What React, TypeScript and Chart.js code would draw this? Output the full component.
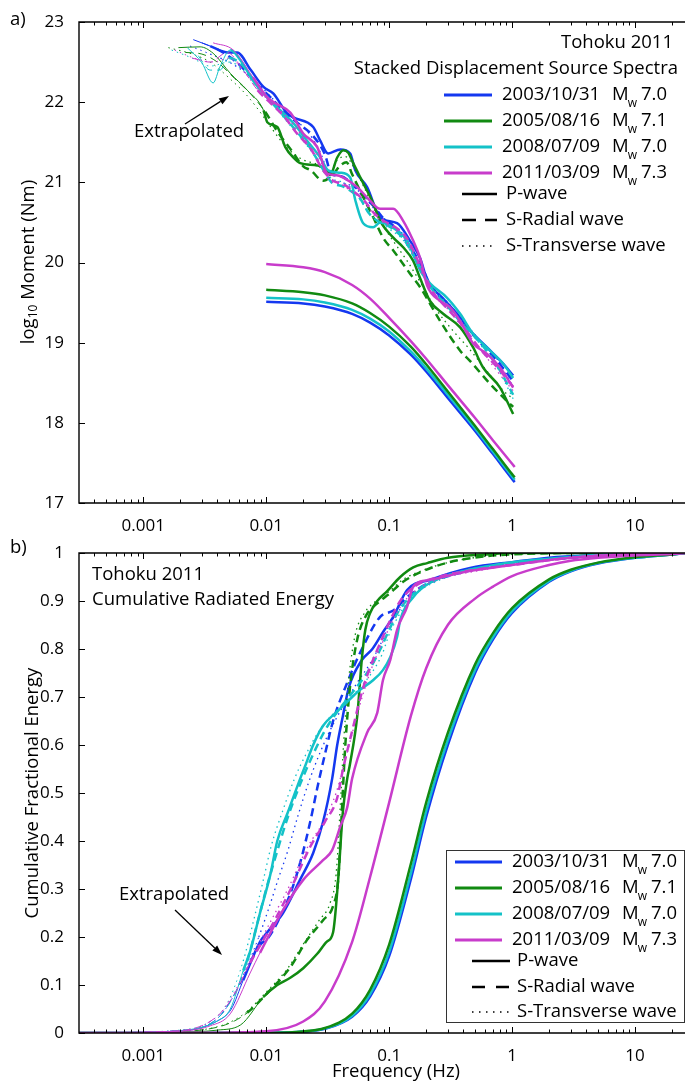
import React, { useEffect, useRef } from 'react';
import { Chart, registerables } from 'chart.js';
Chart.register(...registerables);

type Pt = [number, number];

const FONT = '"Open Sans", sans-serif';
const C_BLUE = '#1438f0';
const C_GREEN = '#118a11';
const C_CYAN = '#14c2c8';
const C_MAGENTA = '#c83ccb';

const X_MIN = 0.0003018;
const X_MAX = 25.5;
const X_TICKS = [0.001, 0.01, 0.1, 1, 10];
const TOP_Y_TICKS = [17, 18, 19, 20, 21, 22, 23];
const BOT_Y_TICKS = [0, 0.1, 0.2, 0.3, 0.4, 0.5, 0.6, 0.7, 0.8, 0.9, 1];

const EVENTS = ['2003/10/31', '2005/08/16', '2008/07/09', '2011/03/09'];
const MAGS = ['7.0', '7.1', '7.0', '7.3'];
const WAVES = ['P-wave', 'S-Radial wave', 'S-Transverse wave'];

// ---------- (a) model spectra ----------
const topModelFreq = [0.01, 0.02, 0.03, 0.05, 0.07, 0.1, 0.15, 0.2, 0.3, 0.5, 0.7, 1.0, 1.05];
const topModelBlue = [19.51, 19.49, 19.45, 19.36, 19.25, 19.09, 18.85, 18.64, 18.31, 17.9, 17.61, 17.3, 17.26];
const topModelCyan = [19.56, 19.54, 19.5, 19.41, 19.3, 19.14, 18.89, 18.68, 18.35, 17.93, 17.64, 17.33, 17.29];
const topModelGreen = [19.66, 19.63, 19.59, 19.49, 19.37, 19.2, 18.95, 18.73, 18.39, 17.96, 17.67, 17.36, 17.32];
const topModelMagenta = [19.98, 19.94, 19.88, 19.72, 19.55, 19.31, 19.02, 18.8, 18.47, 18.06, 17.78, 17.49, 17.45];

// ---------- (a) stacked spectra ----------
const topBlueP: Pt[] = [[0.00255, 22.78], [0.0035, 22.7], [0.0049, 22.62], [0.0058, 22.62], [0.0075, 22.4], [0.0095, 22.19], [0.0114, 22.11], [0.0148, 21.86], [0.0166, 21.81], [0.0241, 21.69], [0.0275, 21.52], [0.0319, 21.36], [0.04, 21.41], [0.0482, 21.36], [0.053, 21.15], [0.0662, 20.94], [0.0845, 20.56], [0.116, 20.49], [0.148, 20.27], [0.179, 20.05], [0.204, 19.78], [0.275, 19.55], [0.357, 19.36], [0.456, 19.15], [0.626, 18.94], [0.845, 18.74], [1.02, 18.59]];
const topBlueR: Pt[] = [[0.003, 22.74], [0.004, 22.66], [0.0052, 22.55], [0.0065, 22.42], [0.0085, 22.22], [0.011, 22.05], [0.014, 21.88], [0.018, 21.74], [0.024, 21.58], [0.03, 21.35], [0.034, 21.1], [0.04, 21.08], [0.05, 20.98], [0.06, 20.85], [0.075, 20.7], [0.09, 20.55], [0.11, 20.45], [0.14, 20.25], [0.18, 19.98], [0.22, 19.7], [0.3, 19.48], [0.4, 19.25], [0.55, 19.0], [0.75, 18.78], [1.02, 18.52]];
const topBlueT: Pt[] = [[0.0024, 22.7], [0.0035, 22.6], [0.005, 22.5], [0.007, 22.35], [0.009, 22.2], [0.012, 22.0], [0.016, 21.82], [0.022, 21.62], [0.028, 21.35], [0.033, 21.05], [0.04, 21.0], [0.05, 20.95], [0.065, 20.8], [0.08, 20.62], [0.1, 20.5], [0.13, 20.35], [0.17, 20.05], [0.22, 19.72], [0.3, 19.5], [0.4, 19.28], [0.55, 19.02], [0.75, 18.8], [1.02, 18.45]];

const topGreenP: Pt[] = [[0.00193, 22.68], [0.0029, 22.69], [0.0037, 22.61], [0.0051, 22.36], [0.007, 22.15], [0.0095, 21.9], [0.0102, 21.75], [0.0123, 21.69], [0.0143, 21.44], [0.0166, 21.31], [0.0189, 21.24], [0.026, 21.21], [0.0302, 21.17], [0.0331, 21.09], [0.0378, 21.31], [0.0423, 21.4], [0.0465, 21.37], [0.051, 21.24], [0.0615, 20.99], [0.0741, 20.74], [0.0845, 20.52], [0.108, 20.31], [0.13, 20.19], [0.157, 20.02], [0.179, 19.8], [0.215, 19.52], [0.275, 19.36], [0.378, 19.19], [0.482, 18.94], [0.581, 18.69], [0.798, 18.44], [1.02, 18.11]];
const topGreenR: Pt[] = [[0.0022, 22.62], [0.003, 22.6], [0.004, 22.5], [0.0055, 22.3], [0.0075, 22.1], [0.0098, 21.88], [0.0125, 21.62], [0.016, 21.4], [0.02, 21.2], [0.023, 21.15], [0.029, 21.02], [0.035, 21.1], [0.04, 21.21], [0.045, 21.25], [0.05, 21.1], [0.06, 20.85], [0.075, 20.55], [0.09, 20.3], [0.108, 20.15], [0.148, 19.86], [0.179, 19.69], [0.26, 19.27], [0.378, 18.9], [0.456, 18.77], [0.65, 18.5], [0.91, 18.27], [1.02, 18.2]];
const topGreenT: Pt[] = [[0.0016, 22.68], [0.0025, 22.6], [0.0035, 22.5], [0.005, 22.3], [0.007, 22.08], [0.0095, 21.82], [0.012, 21.6], [0.015, 21.42], [0.02, 21.28], [0.026, 21.22], [0.032, 21.1], [0.038, 21.28], [0.044, 21.32], [0.052, 21.18], [0.062, 20.95], [0.075, 20.68], [0.09, 20.45], [0.11, 20.25], [0.14, 20.02], [0.18, 19.75], [0.24, 19.42], [0.33, 19.15], [0.45, 18.92], [0.62, 18.65], [0.85, 18.4], [1.02, 18.3]];

const topCyanP: Pt[] = [[0.00228, 22.68], [0.003, 22.49], [0.0037, 22.24], [0.0042, 22.44], [0.0051, 22.65], [0.0062, 22.52], [0.0078, 22.27], [0.0102, 22.06], [0.013, 21.9], [0.0166, 21.74], [0.0215, 21.52], [0.0275, 21.31], [0.0319, 21.15], [0.04, 21.12], [0.0482, 21.06], [0.053, 20.78], [0.0615, 20.49], [0.0741, 20.44], [0.0845, 20.5], [0.116, 20.4], [0.14, 20.27], [0.179, 19.9], [0.215, 19.74], [0.296, 19.56], [0.378, 19.36], [0.482, 19.11], [0.662, 18.9], [0.845, 18.74], [1.02, 18.56]];
const topCyanR: Pt[] = [[0.0028, 22.58], [0.0035, 22.4], [0.0042, 22.4], [0.005, 22.55], [0.0065, 22.45], [0.0085, 22.2], [0.011, 22.0], [0.014, 21.82], [0.018, 21.62], [0.023, 21.42], [0.028, 21.2], [0.034, 21.0], [0.042, 20.95], [0.05, 20.88], [0.058, 20.8], [0.068, 20.62], [0.08, 20.52], [0.1, 20.45], [0.13, 20.3], [0.17, 20.0], [0.22, 19.68], [0.3, 19.45], [0.4, 19.22], [0.55, 19.0], [0.75, 18.72], [1.02, 18.35]];
const topCyanT: Pt[] = [[0.0017, 22.65], [0.0025, 22.55], [0.0035, 22.45], [0.005, 22.5], [0.0065, 22.4], [0.0085, 22.18], [0.011, 22.0], [0.014, 21.8], [0.018, 21.6], [0.023, 21.4], [0.028, 21.2], [0.034, 21.05], [0.042, 21.0], [0.05, 20.92], [0.06, 20.75], [0.07, 20.6], [0.085, 20.5], [0.1, 20.42], [0.13, 20.28], [0.17, 19.98], [0.22, 19.7], [0.3, 19.47], [0.4, 19.24], [0.55, 18.98], [0.75, 18.7], [1.02, 18.3]];

const topMagentaP: Pt[] = [[0.0037, 22.74], [0.0054, 22.65], [0.0078, 22.31], [0.0102, 22.06], [0.0118, 21.99], [0.0157, 21.87], [0.02, 21.61], [0.026, 21.44], [0.0313, 21.11], [0.0364, 21.09], [0.0423, 21.06], [0.055, 20.94], [0.07, 20.77], [0.0845, 20.67], [0.108, 20.67], [0.13, 20.52], [0.157, 20.27], [0.179, 20.05], [0.204, 19.71], [0.26, 19.52], [0.313, 19.44], [0.378, 19.27], [0.482, 18.99], [0.626, 18.86], [0.798, 18.69], [1.02, 18.44]];
const topMagentaR: Pt[] = [[0.0025, 22.55], [0.0035, 22.5], [0.0048, 22.62], [0.0065, 22.4], [0.0085, 22.15], [0.011, 21.98], [0.014, 21.82], [0.018, 21.6], [0.023, 21.42], [0.029, 21.15], [0.035, 21.02], [0.042, 20.98], [0.05, 20.9], [0.062, 20.78], [0.075, 20.62], [0.09, 20.52], [0.11, 20.45], [0.14, 20.3], [0.18, 19.95], [0.23, 19.62], [0.3, 19.42], [0.4, 19.2], [0.55, 18.92], [0.75, 18.7], [1.02, 18.45]];
const topMagentaT: Pt[] = [[0.0018, 22.65], [0.0026, 22.55], [0.0037, 22.5], [0.005, 22.55], [0.0068, 22.35], [0.009, 22.12], [0.012, 21.95], [0.016, 21.75], [0.021, 21.52], [0.027, 21.3], [0.033, 21.02], [0.04, 20.98], [0.05, 20.88], [0.06, 20.8], [0.075, 20.6], [0.09, 20.5], [0.11, 20.42], [0.14, 20.25], [0.18, 19.9], [0.23, 19.6], [0.3, 19.42], [0.4, 19.18], [0.55, 18.92], [0.75, 18.65], [1.02, 18.4]];

// ---------- (b) model cumulative energy ----------
const botModelFreq = [0.0003, 0.003, 0.01, 0.02, 0.03, 0.05, 0.07, 0.1, 0.15, 0.2, 0.3, 0.5, 0.7, 1, 2, 3, 5, 10, 20, 26];
const botModelBlue = [0, 0, 0.0003, 0.0027, 0.0086, 0.034, 0.076, 0.16, 0.32, 0.45, 0.6, 0.75, 0.82, 0.875, 0.94, 0.962, 0.978, 0.99, 0.997, 1];
const botModelCyan = [0, 0, 0.0003, 0.003, 0.0093, 0.036, 0.081, 0.169, 0.332, 0.462, 0.61, 0.757, 0.825, 0.879, 0.942, 0.963, 0.979, 0.99, 0.997, 1];
const botModelGreen = [0, 0, 0.0004, 0.0033, 0.0104, 0.0405, 0.09, 0.184, 0.352, 0.48, 0.625, 0.768, 0.833, 0.885, 0.945, 0.965, 0.98, 0.991, 0.997, 1];
const botModelMagenta = [0, 0.0004, 0.0036, 0.024, 0.066, 0.19, 0.325, 0.48, 0.66, 0.76, 0.85, 0.905, 0.93, 0.952, 0.975, 0.984, 0.99, 0.995, 0.998, 1];

// ---------- (b) cumulative radiated energy ----------
const botBlueP: Pt[] = [[0.0003, 0], [0.002, 0.004], [0.004, 0.025], [0.0052, 0.05], [0.0065, 0.11], [0.0089, 0.19], [0.0102, 0.21], [0.0137, 0.25], [0.0189, 0.32], [0.0241, 0.375], [0.029, 0.44], [0.0344, 0.53], [0.0378, 0.6], [0.042, 0.66], [0.047, 0.72], [0.06, 0.777], [0.073, 0.8], [0.089, 0.835], [0.108, 0.867], [0.14, 0.923], [0.215, 0.944], [0.456, 0.969], [1, 0.981], [2.5, 0.992], [6, 0.997], [20, 1], [26, 1]];
const botBlueR: Pt[] = [[0.0003, 0], [0.002, 0.005], [0.004, 0.03], [0.0055, 0.08], [0.007, 0.13], [0.0087, 0.18], [0.0105, 0.2], [0.0123, 0.23], [0.0157, 0.29], [0.0189, 0.355], [0.0228, 0.44], [0.026, 0.51], [0.03, 0.58], [0.035, 0.65], [0.0456, 0.73], [0.06, 0.8], [0.0845, 0.867], [0.108, 0.88], [0.14, 0.908], [0.2, 0.935], [0.4, 0.96], [1, 0.978], [3, 0.99], [10, 0.998], [26, 1]];
const botBlueT: Pt[] = [[0.0003, 0], [0.002, 0.005], [0.004, 0.03], [0.0055, 0.08], [0.007, 0.14], [0.0087, 0.2], [0.0105, 0.26], [0.0125, 0.32], [0.015, 0.38], [0.018, 0.45], [0.022, 0.52], [0.027, 0.58], [0.033, 0.63], [0.042, 0.68], [0.055, 0.73], [0.07, 0.77], [0.085, 0.81], [0.1, 0.85], [0.13, 0.89], [0.17, 0.92], [0.25, 0.945], [0.5, 0.965], [1, 0.978], [3, 0.99], [10, 0.998], [26, 1]];

const botGreenP: Pt[] = [[0.0003, 0], [0.002, 0.002], [0.004, 0.006], [0.0062, 0.017], [0.0095, 0.075], [0.0123, 0.1], [0.0157, 0.115], [0.02, 0.135], [0.026, 0.165], [0.031, 0.19], [0.035, 0.21], [0.0385, 0.32], [0.042, 0.46], [0.0456, 0.53], [0.048, 0.56], [0.055, 0.66], [0.06, 0.78], [0.064, 0.84], [0.07, 0.875], [0.08, 0.9], [0.096, 0.92], [0.123, 0.95], [0.157, 0.97], [0.204, 0.979], [0.3, 0.99], [0.6, 0.997], [1, 1], [26, 1]];
const botGreenR: Pt[] = [[0.0003, 0], [0.002, 0.003], [0.004, 0.012], [0.0055, 0.025], [0.007, 0.042], [0.0102, 0.083], [0.0157, 0.137], [0.0215, 0.194], [0.029, 0.235], [0.035, 0.265], [0.0385, 0.32], [0.041, 0.45], [0.044, 0.6], [0.048, 0.72], [0.055, 0.82], [0.065, 0.87], [0.08, 0.895], [0.1, 0.915], [0.13, 0.94], [0.18, 0.96], [0.3, 0.98], [0.6, 0.993], [1, 0.997], [3, 1], [26, 1]];
const botGreenT: Pt[] = [[0.0003, 0], [0.002, 0.003], [0.004, 0.013], [0.0055, 0.027], [0.007, 0.045], [0.01, 0.085], [0.015, 0.135], [0.02, 0.185], [0.027, 0.235], [0.033, 0.27], [0.037, 0.33], [0.04, 0.47], [0.043, 0.62], [0.047, 0.74], [0.053, 0.83], [0.063, 0.875], [0.078, 0.9], [0.1, 0.92], [0.13, 0.945], [0.18, 0.962], [0.3, 0.98], [0.6, 0.993], [1, 0.997], [3, 1], [26, 1]];

const botCyanP: Pt[] = [[0.0003, 0], [0.001, 0.001], [0.002, 0.005], [0.003, 0.012], [0.004, 0.025], [0.0051, 0.05], [0.0065, 0.13], [0.0074, 0.17], [0.0089, 0.25], [0.0108, 0.33], [0.0123, 0.4], [0.015, 0.46], [0.0189, 0.53], [0.021, 0.56], [0.0241, 0.6], [0.029, 0.64], [0.0378, 0.67], [0.0456, 0.69], [0.058, 0.715], [0.074, 0.735], [0.089, 0.756], [0.102, 0.783], [0.116, 0.825], [0.123, 0.86], [0.157, 0.908], [0.215, 0.938], [0.456, 0.965], [1, 0.981], [2.5, 0.99], [5, 0.996], [15, 1], [26, 1]];
const botCyanR: Pt[] = [[0.0003, 0], [0.002, 0.005], [0.004, 0.03], [0.0055, 0.08], [0.007, 0.15], [0.0085, 0.23], [0.01, 0.3], [0.012, 0.37], [0.015, 0.45], [0.019, 0.52], [0.024, 0.58], [0.03, 0.63], [0.038, 0.67], [0.047, 0.7], [0.058, 0.73], [0.07, 0.76], [0.085, 0.8], [0.1, 0.84], [0.12, 0.88], [0.15, 0.91], [0.2, 0.935], [0.4, 0.962], [1, 0.978], [3, 0.99], [10, 0.998], [26, 1]];
const botCyanT: Pt[] = [[0.0003, 0], [0.002, 0.006], [0.004, 0.035], [0.005, 0.07], [0.0065, 0.15], [0.008, 0.24], [0.0095, 0.32], [0.011, 0.39], [0.0135, 0.46], [0.017, 0.53], [0.021, 0.58], [0.027, 0.63], [0.035, 0.665], [0.045, 0.69], [0.058, 0.72], [0.072, 0.75], [0.088, 0.79], [0.1, 0.83], [0.12, 0.87], [0.15, 0.905], [0.2, 0.93], [0.4, 0.96], [1, 0.978], [3, 0.99], [10, 0.998], [26, 1]];

const botMagentaP: Pt[] = [[0.0003, 0], [0.002, 0.004], [0.0035, 0.015], [0.0051, 0.04], [0.0074, 0.125], [0.0089, 0.167], [0.0137, 0.256], [0.02, 0.319], [0.029, 0.36], [0.0344, 0.381], [0.04, 0.43], [0.0456, 0.47], [0.05, 0.53], [0.066, 0.625], [0.08, 0.667], [0.089, 0.735], [0.102, 0.777], [0.116, 0.84], [0.14, 0.888], [0.157, 0.93], [0.215, 0.944], [0.4, 0.96], [1, 0.975], [3, 0.99], [10, 0.998], [26, 1]];
const botMagentaR: Pt[] = [[0.0003, 0], [0.002, 0.005], [0.004, 0.035], [0.0055, 0.08], [0.0074, 0.146], [0.0114, 0.229], [0.0157, 0.298], [0.0228, 0.388], [0.03, 0.44], [0.0378, 0.49], [0.042, 0.548], [0.051, 0.638], [0.06, 0.71], [0.07, 0.762], [0.0845, 0.812], [0.102, 0.86], [0.123, 0.9], [0.16, 0.93], [0.25, 0.95], [0.5, 0.965], [1, 0.975], [3, 0.99], [10, 0.998], [26, 1]];
const botMagentaT: Pt[] = [[0.0003, 0], [0.002, 0.005], [0.004, 0.035], [0.0055, 0.085], [0.0074, 0.15], [0.011, 0.235], [0.015, 0.3], [0.022, 0.39], [0.03, 0.445], [0.037, 0.5], [0.043, 0.56], [0.052, 0.64], [0.062, 0.71], [0.072, 0.76], [0.087, 0.81], [0.105, 0.855], [0.125, 0.89], [0.16, 0.92], [0.25, 0.945], [0.5, 0.962], [1, 0.975], [3, 0.99], [10, 0.998], [26, 1]];

// ---------- helpers ----------
type Style = 'P' | 'R' | 'T' | 'M';

function lineDs(pts: Pt[], color: string, style: Style, cut: number) {
  const full = style === 'T' ? 1.3 : 2.5;
  return {
    data: pts.map(([x, y]) => ({ x, y })),
    borderColor: color,
    backgroundColor: color,
    borderWidth: full,
    borderDash: style === 'R' ? [8, 5] : style === 'T' ? [1.5, 4] : [],
    borderCapStyle: 'butt',
    pointRadius: 0,
    fill: false,
    cubicInterpolationMode: 'monotone',
    segment: {
      borderWidth: (c: any) => (c.p1.parsed.x <= cut ? 1 : full),
    },
  };
}

function modelDs(freq: number[], vals: number[], color: string) {
  return lineDs(freq.map((f, i) => [f, vals[i]] as Pt), color, 'M', 0);
}

function text(ctx: CanvasRenderingContext2D, s: string, x: number, y: number, align: CanvasTextAlign = 'left', size = 18.5) {
  ctx.font = `${size}px ${FONT}`;
  ctx.textAlign = align;
  ctx.textBaseline = 'middle';
  ctx.fillStyle = '#000';
  ctx.fillText(s, x, y);
}

function arrow(ctx: CanvasRenderingContext2D, x1: number, y1: number, x2: number, y2: number) {
  const ang = Math.atan2(y2 - y1, x2 - x1);
  const hl = 10, hw = 3.5;
  const bx = x2 - hl * Math.cos(ang), by = y2 - hl * Math.sin(ang);
  ctx.save();
  ctx.strokeStyle = '#000';
  ctx.fillStyle = '#000';
  ctx.lineWidth = 1.3;
  ctx.setLineDash([]);
  ctx.beginPath();
  ctx.moveTo(x1, y1);
  ctx.lineTo(bx, by);
  ctx.stroke();
  ctx.beginPath();
  ctx.moveTo(x2, y2);
  ctx.lineTo(bx + hw * Math.sin(ang), by - hw * Math.cos(ang));
  ctx.lineTo(bx - hw * Math.sin(ang), by + hw * Math.cos(ang));
  ctx.closePath();
  ctx.fill();
  ctx.restore();
}

function seg(ctx: CanvasRenderingContext2D, x1: number, x2: number, y: number, color: string, width: number, dash: number[]) {
  ctx.save();
  ctx.strokeStyle = color;
  ctx.lineWidth = width;
  ctx.lineCap = 'butt';
  ctx.setLineDash(dash);
  ctx.beginPath();
  ctx.moveTo(x1, y);
  ctx.lineTo(x2, y);
  ctx.stroke();
  ctx.restore();
}

function mw(ctx: CanvasRenderingContext2D, x: number, y: number, mag: string) {
  ctx.fillStyle = '#000';
  ctx.textAlign = 'left';
  ctx.textBaseline = 'middle';
  ctx.font = `18.5px ${FONT}`;
  ctx.fillText('M', x, y);
  const wM = ctx.measureText('M').width;
  ctx.font = `12px ${FONT}`;
  ctx.fillText('w', x + wM - 1, y + 9);
  const wW = ctx.measureText('w').width;
  ctx.font = `18.5px ${FONT}`;
  ctx.fillText(mag, x + wM + wW + 3, y);
}

function legend(ctx: CanvasRenderingContext2D, rows: number[], lineX: [number, number], textX: number, mX: number, waveRows: number[], waveLineX: [number, number], waveTextX: number, dashR: number[]) {
  const cols = [C_BLUE, C_GREEN, C_CYAN, C_MAGENTA];
  EVENTS.forEach((ev, i) => {
    seg(ctx, lineX[0], lineX[1], rows[i], cols[i], 3, []);
    text(ctx, ev, textX, rows[i]);
    mw(ctx, mX, rows[i], MAGS[i]);
  });
  seg(ctx, waveLineX[0], waveLineX[1], waveRows[0], '#000', 2.5, []);
  seg(ctx, waveLineX[0], waveLineX[1], waveRows[1], '#000', 2.5, dashR);
  seg(ctx, waveLineX[0], waveLineX[1], waveRows[2], '#000', 1.3, [1.5, 5.5]);
  WAVES.forEach((w, i) => text(ctx, w, waveTextX, waveRows[i]));
}

function rotatedTitle(ctx: CanvasRenderingContext2D, cx: number, cy: number, parts: { s: string; sub?: boolean }[]) {
  ctx.save();
  ctx.translate(cx, cy);
  ctx.rotate(-Math.PI / 2);
  ctx.fillStyle = '#000';
  ctx.textAlign = 'left';
  ctx.textBaseline = 'middle';
  const widths = parts.map((p) => {
    ctx.font = `${p.sub ? 12 : 18.5}px ${FONT}`;
    return ctx.measureText(p.s).width;
  });
  let x = -widths.reduce((a, b) => a + b, 0) / 2;
  parts.forEach((p, i) => {
    ctx.font = `${p.sub ? 12 : 18.5}px ${FONT}`;
    ctx.fillText(p.s, x, p.sub ? 5 : 0);
    x += widths[i];
  });
  ctx.restore();
}

const framePlugin = {
  id: 'frame',
  afterDatasetsDraw(chart: any) {
    const { ctx, chartArea: a, scales } = chart;
    const xs = scales.x, ys = scales.y;
    ctx.save();
    ctx.setLineDash([]);
    ctx.strokeStyle = '#000';
    ctx.lineWidth = 1.4;
    ctx.beginPath();
    ctx.moveTo(a.right + 2, a.top);
    ctx.lineTo(a.left, a.top);
    ctx.lineTo(a.left, a.bottom);
    ctx.lineTo(a.right + 2, a.bottom);
    ctx.stroke();
    ctx.lineWidth = 1;
    ctx.beginPath();
    for (let e = -4; e <= 2; e++) {
      for (let k = 1; k <= 9; k++) {
        const v = k * Math.pow(10, e);
        if (v < X_MIN || v > X_MAX) continue;
        const px = Math.round(xs.getPixelForValue(v)) + 0.5;
        const len = k === 1 ? 6 : 3.5;
        ctx.moveTo(px, a.bottom);
        ctx.lineTo(px, a.bottom - len);
        ctx.moveTo(px, a.top);
        ctx.lineTo(px, a.top + len);
      }
    }
    ys.ticks.forEach((t: any) => {
      const py = Math.round(ys.getPixelForValue(t.value)) + 0.5;
      ctx.moveTo(a.left, py);
      ctx.lineTo(a.left + 6, py);
    });
    ctx.stroke();
    ctx.restore();
  },
};

function baseOptions(yMin: number, yMax: number, yTicks: number[], canvasH: number, areaTop: number, areaBottom: number, yFmt: (v: number) => string) {
  return {
    animation: false,
    responsive: false,
    devicePixelRatio: 1,
    events: [],
    layout: { padding: { left: 0, right: 0, top: areaTop, bottom: 0 } },
    plugins: { legend: { display: false }, tooltip: { enabled: false } },
    scales: {
      x: {
        type: 'logarithmic',
        min: X_MIN,
        max: X_MAX,
        grid: { display: false },
        border: { display: false },
        afterBuildTicks: (s: any) => {
          s.ticks = X_TICKS.map((v) => ({ value: v }));
        },
        afterFit: (s: any) => {
          s.height = canvasH - areaBottom;
        },
        ticks: {
          autoSkip: false,
          maxRotation: 0,
          padding: 5,
          color: '#000',
          font: { family: FONT, size: 17 },
          callback: (v: any) => String(v),
        },
      },
      y: {
        type: 'linear',
        min: yMin,
        max: yMax,
        grid: { display: false },
        border: { display: false },
        afterBuildTicks: (s: any) => {
          s.ticks = yTicks.map((v) => ({ value: v }));
        },
        afterFit: (s: any) => {
          s.width = 79;
        },
        ticks: {
          autoSkip: false,
          padding: 7,
          color: '#000',
          font: { family: FONT, size: 17 },
          callback: (v: any) => yFmt(Number(v)),
        },
      },
    },
  };
}

function drawOrder(list: any[]) {
  return list.slice().reverse();
}

function topConfig(): any {
  const H = 545;
  const deco = {
    id: 'deco',
    afterDraw(chart: any) {
      const ctx: CanvasRenderingContext2D = chart.ctx;
      text(ctx, 'a)', 10, 20);
      text(ctx, 'Extrapolated', 134, 132);
      arrow(ctx, 185, 124, 229, 96);
      text(ctx, 'Tohoku 2011', 673, 43, 'right');
      text(ctx, 'Stacked Displacement Source Spectra', 678, 69, 'right');
      legend(ctx, [95, 121, 147, 173], [444, 492], 502, 612, [194, 220, 246], [462, 497], 506, [14, 9]);
      rotatedTitle(ctx, 29, 262, [{ s: 'log' }, { s: '10', sub: true }, { s: ' Moment (Nm)' }]);
    },
  };
  const ds = drawOrder([
    modelDs(topModelFreq, topModelBlue, C_BLUE),
    modelDs(topModelFreq, topModelCyan, C_CYAN),
    modelDs(topModelFreq, topModelGreen, C_GREEN),
    modelDs(topModelFreq, topModelMagenta, C_MAGENTA),
    lineDs(topBlueT, C_BLUE, 'T', 0.0048),
    lineDs(topBlueR, C_BLUE, 'R', 0.0048),
    lineDs(topBlueP, C_BLUE, 'P', 0.0048),
    lineDs(topGreenT, C_GREEN, 'T', 0.0098),
    lineDs(topGreenR, C_GREEN, 'R', 0.0098),
    lineDs(topGreenP, C_GREEN, 'P', 0.0098),
    lineDs(topCyanT, C_CYAN, 'T', 0.0055),
    lineDs(topCyanR, C_CYAN, 'R', 0.0055),
    lineDs(topCyanP, C_CYAN, 'P', 0.0055),
    lineDs(topMagentaT, C_MAGENTA, 'T', 0.0095),
    lineDs(topMagentaR, C_MAGENTA, 'R', 0.0095),
    lineDs(topMagentaP, C_MAGENTA, 'P', 0.0095),
  ]);
  return {
    type: 'line',
    data: { datasets: ds },
    options: baseOptions(17, 23, TOP_Y_TICKS, H, 22, 503, (v) => String(v)),
    plugins: [framePlugin, deco],
  };
}

function botConfig(): any {
  const H = 552;
  const OFF = 530;
  const deco = {
    id: 'deco',
    afterDraw(chart: any) {
      const ctx: CanvasRenderingContext2D = chart.ctx;
      text(ctx, 'b)', 10, 548 - OFF);
      text(ctx, 'Tohoku 2011', 92, 575 - OFF);
      text(ctx, 'Cumulative Radiated Energy', 92, 600 - OFF);
      text(ctx, 'Extrapolated', 119, 895 - OFF);
      arrow(ctx, 175, 910 - OFF, 222, 955 - OFF);
      ctx.save();
      ctx.fillStyle = '#fff';
      ctx.fillRect(446, 850 - OFF, 240, 173);
      ctx.strokeStyle = '#333';
      ctx.lineWidth = 1;
      ctx.setLineDash([]);
      ctx.strokeRect(446.5, 850.5 - OFF, 238, 172);
      ctx.restore();
      legend(ctx, [862 - OFF, 888 - OFF, 914 - OFF, 940 - OFF], [455, 502], 512, 622, [961 - OFF, 987 - OFF, 1012 - OFF], [472, 510], 517, [13, 11]);
      rotatedTitle(ctx, 33, 793 - OFF, [{ s: 'Cumulative Fractional Energy' }]);
      text(ctx, 'Frequency (Hz)', 396, 1072 - OFF, 'center');
    },
  };
  const ds = drawOrder([
    modelDs(botModelFreq, botModelBlue, C_BLUE),
    modelDs(botModelFreq, botModelCyan, C_CYAN),
    modelDs(botModelFreq, botModelGreen, C_GREEN),
    lineDs(botBlueT, C_BLUE, 'T', 0.0087),
    lineDs(botBlueR, C_BLUE, 'R', 0.0087),
    lineDs(botBlueP, C_BLUE, 'P', 0.0087),
    lineDs(botGreenT, C_GREEN, 'T', 0.0095),
    lineDs(botGreenR, C_GREEN, 'R', 0.0095),
    lineDs(botGreenP, C_GREEN, 'P', 0.0095),
    lineDs(botCyanT, C_CYAN, 'T', 0.007),
    lineDs(botCyanR, C_CYAN, 'R', 0.007),
    lineDs(botCyanP, C_CYAN, 'P', 0.007),
    lineDs(botMagentaT, C_MAGENTA, 'T', 0.0089),
    lineDs(botMagentaR, C_MAGENTA, 'R', 0.0089),
    lineDs(botMagentaP, C_MAGENTA, 'P', 0.0089),
    modelDs(botModelFreq, botModelMagenta, C_MAGENTA),
  ]);
  return {
    type: 'line',
    data: { datasets: ds },
    options: baseOptions(0, 1, BOT_Y_TICKS, H, 23, 503, (v) => (Math.round(v * 10) / 10).toString()),
    plugins: [framePlugin, deco],
  };
}

export default function App() {
  const topRef = useRef<HTMLCanvasElement>(null);
  const botRef = useRef<HTMLCanvasElement>(null);
  useEffect(() => {
    const c1 = new Chart(topRef.current as HTMLCanvasElement, topConfig());
    const c2 = new Chart(botRef.current as HTMLCanvasElement, botConfig());
    return () => {
      c1.destroy();
      c2.destroy();
    };
  }, []);
  return (
    <div style={{ position: 'absolute', left: 0, top: 0, width: 685, height: 1082, background: '#fff', overflow: 'hidden' }}>
      <canvas ref={topRef} width={685} height={545} style={{ position: 'absolute', left: 0, top: 0, width: 685, height: 545 }} />
      <canvas ref={botRef} width={685} height={552} style={{ position: 'absolute', left: 0, top: 530, width: 685, height: 552 }} />
    </div>
  );
}
